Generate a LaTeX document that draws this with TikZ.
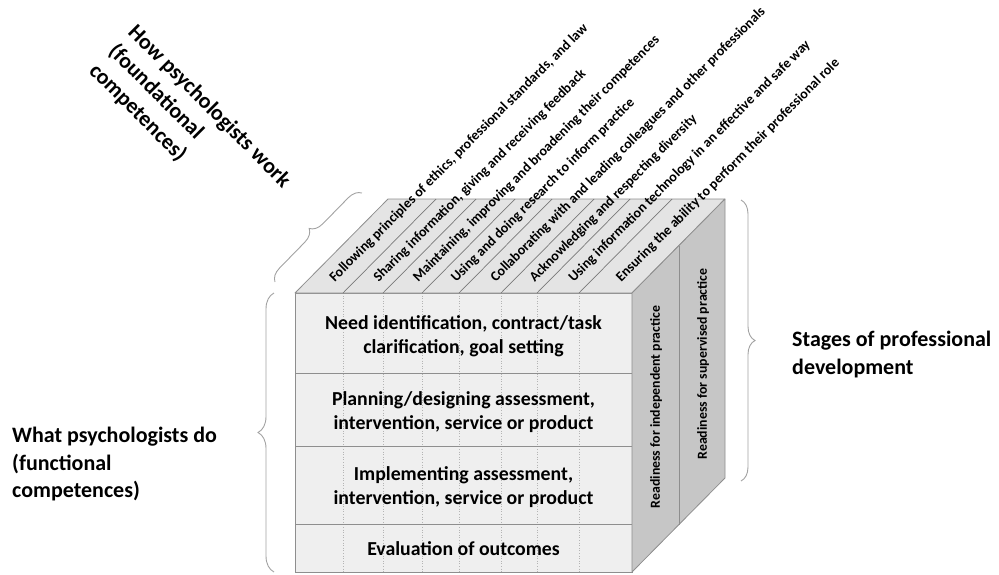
\documentclass[tikz,border=0pt]{standalone}
\usepackage{fontspec}
\setmainfont{Carlito}
\usepackage{tikz}
\usepackage{xcolor}
\usetikzlibrary{decorations.pathreplacing}
\definecolor{top-gray}{HTML}{E4E4E4}
\definecolor{front-gray}{HTML}{EFEFEF}
\definecolor{side-gray}{HTML}{C6C6C6}
\definecolor{edge-gray}{HTML}{8E8E8E}
\definecolor{dot-gray}{HTML}{B4B4B4}
\definecolor{brace-gray}{HTML}{A2A2A2}
\tikzset{
    front-face/.style = {fill=front-gray, draw=edge-gray, line width=0.8pt},
    top-face/.style = {fill=top-gray, draw=edge-gray, line width=0.8pt, line join=round},
    side-face/.style = {fill=side-gray, draw=edge-gray, line width=0.8pt, line join=round},
    strip-line/.style = {draw=edge-gray!85!black, line width=0.7pt},
    dotted-rule/.style = {draw=dot-gray, line width=0.6pt, dotted},
    row-rule/.style = {draw=edge-gray, line width=0.8pt},
    row-label/.style = {align=center, inner sep=0pt, font=\fontsize{19.8}{24}\selectfont\bfseries},
    strip-label/.style = {rotate=45, anchor=west, inner sep=0pt, font=\fontsize{14}{17}\selectfont\bfseries},
    side-label/.style = {rotate=90, inner sep=0pt, font=\fontsize{13.8}{17}\selectfont\bfseries},
    title-label/.style = {align=left, inner sep=0pt, font=\fontsize{22}{27.5}\selectfont\bfseries},
    brace-line/.style = {draw=brace-gray, line width=0.9pt, decorate},
}
\begin{document}
\begin{tikzpicture}[x=1pt, y=-1pt]
\useasboundingbox (0,0) rectangle (999,574);

\coordinate (front-nw) at (295,293);
\coordinate (front-ne) at (632,293);
\coordinate (front-se) at (632,572);
\coordinate (front-sw) at (295,572);
\coordinate (back-nw) at (388,199);
\coordinate (back-ne) at (725,199);
\coordinate (back-se) at (725,478);
\coordinate (side-mid-n) at (679,246);
\coordinate (side-mid-s) at (679,525);

\coordinate (strip-a) at (343,293);
\coordinate (strip-b) at (383,293);
\coordinate (strip-c) at (422,293);
\coordinate (strip-d) at (459,293);
\coordinate (strip-e) at (501,293);
\coordinate (strip-f) at (537,293);
\coordinate (strip-g) at (579,293);
\coordinate (strip-a-back) at (436,199);
\coordinate (strip-b-back) at (476,199);
\coordinate (strip-c-back) at (515,199);
\coordinate (strip-d-back) at (552,199);
\coordinate (strip-e-back) at (594,199);
\coordinate (strip-f-back) at (630,199);
\coordinate (strip-g-back) at (672,199);

\coordinate (row-a) at (295,373);
\coordinate (row-b) at (295,446);
\coordinate (row-c) at (295,524);

% front face
\fill[front-face, draw=none] (front-nw) -- (front-ne) -- (front-se) -- (front-sw) -- cycle;
\draw[dotted-rule] (strip-a) -- (strip-a |- front-sw);
\draw[dotted-rule] (strip-b) -- (strip-b |- front-sw);
\draw[dotted-rule] (strip-c) -- (strip-c |- front-sw);
\draw[dotted-rule] (strip-d) -- (strip-d |- front-sw);
\draw[dotted-rule] (strip-e) -- (strip-e |- front-sw);
\draw[dotted-rule] (strip-f) -- (strip-f |- front-sw);
\draw[dotted-rule] (strip-g) -- (strip-g |- front-sw);
\draw[row-rule] (row-a) -- (row-a -| front-ne);
\draw[row-rule] (row-b) -- (row-b -| front-ne);
\draw[row-rule] (row-c) -- (row-c -| front-ne);
\draw[front-face, fill=none] (front-nw) -- (front-ne) -- (front-se) -- (front-sw) -- cycle;

% top face
\draw[top-face] (front-nw) -- (back-nw) -- (back-ne) -- (front-ne) -- cycle;
\draw[strip-line] (strip-a) -- (strip-a-back);
\draw[strip-line] (strip-b) -- (strip-b-back);
\draw[strip-line] (strip-c) -- (strip-c-back);
\draw[strip-line] (strip-d) -- (strip-d-back);
\draw[strip-line] (strip-e) -- (strip-e-back);
\draw[strip-line] (strip-f) -- (strip-f-back);
\draw[strip-line] (strip-g) -- (strip-g-back);

% side face
\draw[side-face] (front-ne) -- (back-ne) -- (back-se) -- (front-se) -- cycle;
\draw[row-rule] (side-mid-n) -- (side-mid-s);

\node[row-label] (need-row) at (463.5,336) {Need identification, contract/task\\clarification, goal setting};
\node[row-label] (planning-row) at (463.5,412) {Planning/designing assessment,\\intervention, service or product};
\node[row-label] (implementing-row) at (463.5,487) {Implementing assessment,\\intervention, service or product};
\node[row-label] (evaluation-row) at (463.5,549) {Evaluation of outcomes};

\node[strip-label] (ethics-label) at (332,280) {Following principles of ethics, professional standards, and law};
\node[strip-label] (feedback-label) at (376,280) {Sharing information, giving and receiving feedback};
\node[strip-label] (broadening-label) at (415.5,280) {Maintaining, improving and broadening their competences};
\node[strip-label] (research-label) at (453.5,280) {Using and doing research to inform practice};
\node[strip-label] (colleagues-label) at (493,280) {Collaborating with and leading colleagues and other professionals};
\node[strip-label] (diversity-label) at (532,280) {Acknowledging and respecting diversity};
\node[strip-label] (technology-label) at (571,280) {Using information technology in an effective and safe way};
\node[strip-label] (role-label) at (618.5,280) {Ensuring the ability to perform their professional role};

\node[side-label] (independent-label) at (656,407) {Readiness for independent practice};
\node[side-label] (supervised-label) at (703,364) {Readiness for supervised practice};

\node[title-label, rotate=-45, anchor=north west] (work-title) at (138,22) {How psychologists work\\(foundational\\competences)};
\node[title-label, anchor=north west] (do-title) at (12,427) {What psychologists do\\(functional\\competences)};
\node[title-label, anchor=north west] (stages-title) at (792,331) {Stages of professional\\development};

\coordinate (work-brace-s) at (275,282);
\coordinate (work-brace-n) at (362,193);
\coordinate (do-brace-s) at (274,572);
\coordinate (do-brace-n) at (274,293);
\coordinate (stages-brace-n) at (741,200);
\coordinate (stages-brace-s) at (741,481);
\draw[brace-line, decoration={brace, amplitude=13pt}] (work-brace-s) -- (work-brace-n);
\draw[brace-line, decoration={brace, amplitude=16pt}] (do-brace-s) -- (do-brace-n);
\draw[brace-line, decoration={brace, amplitude=14pt}] (stages-brace-n) -- (stages-brace-s);
\end{tikzpicture}
\end{document}
